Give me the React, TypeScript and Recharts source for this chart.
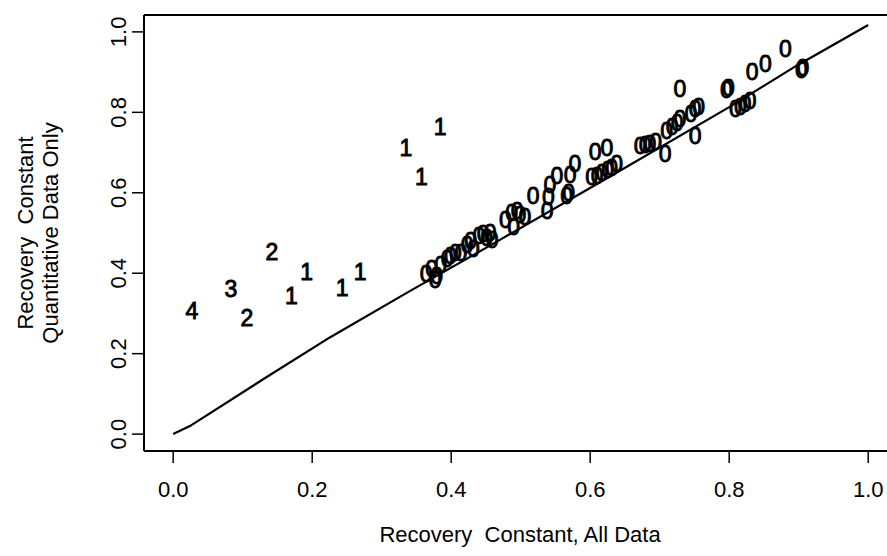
import React from 'react';
import { ScatterChart, Scatter, XAxis, YAxis, ReferenceLine, Label } from 'recharts';

// ---- data ----
const xTicks = [0, 0.2, 0.4, 0.6, 0.8, 1.0];
const yTicks = [0, 0.2, 0.4, 0.6, 0.8, 1.0];

const zeroX = [
  0.364, 0.372, 0.377, 0.379, 0.385, 0.394, 0.399, 0.406, 0.414, 0.423, 0.428, 0.432, 0.440, 0.446, 0.451, 0.456, 0.459,
  0.478, 0.487, 0.490, 0.495, 0.499, 0.506, 0.518, 0.538, 0.540, 0.542, 0.552, 0.566, 0.569, 0.571, 0.578,
  0.602, 0.607, 0.610, 0.617, 0.624, 0.625, 0.631, 0.638,
  0.672, 0.679, 0.686, 0.694, 0.708, 0.710, 0.718, 0.725, 0.729, 0.729, 0.745, 0.751, 0.756, 0.751,
  0.796, 0.799, 0.809, 0.816, 0.823, 0.830, 0.833, 0.852, 0.881, 0.904, 0.906,
];
const zeroY = [
  0.400, 0.410, 0.384, 0.395, 0.422, 0.436, 0.444, 0.452, 0.450, 0.470, 0.480, 0.462, 0.492, 0.497, 0.488, 0.500, 0.484,
  0.532, 0.550, 0.516, 0.555, 0.545, 0.541, 0.593, 0.556, 0.589, 0.620, 0.643, 0.593, 0.600, 0.645, 0.672,
  0.639, 0.701, 0.643, 0.650, 0.713, 0.657, 0.663, 0.672,
  0.717, 0.719, 0.721, 0.726, 0.697, 0.754, 0.763, 0.775, 0.784, 0.858, 0.796, 0.808, 0.815, 0.742,
  0.855, 0.860, 0.808, 0.813, 0.821, 0.829, 0.900, 0.920, 0.958, 0.905, 0.910,
];
const oneX = [0.170, 0.192, 0.243, 0.269, 0.335, 0.357, 0.384];
const oneY = [0.343, 0.404, 0.365, 0.404, 0.711, 0.639, 0.763];
const twoX = [0.106, 0.142];
const twoY = [0.289, 0.454];
const threeX = [0.083];
const threeY = [0.361];
const fourX = [0.027];
const fourY = [0.306];

const lineX = [0, 0.024, 0.13, 0.226, 0.341, 0.45, 0.631, 0.8, 0.897, 1.0];
const lineY = [0, 0.02, 0.137, 0.241, 0.356, 0.463, 0.643, 0.813, 0.916, 1.017];

// ---- layout ----
const W = 910;
const H = 556;
const PLOT_LEFT = 144;
const PLOT_TOP = 15;
const PLOT_RIGHT = 896;
const PLOT_BOTTOM = 451;
const X_DOMAIN: [number, number] = [-0.042, 1.04];
const Y_DOMAIN: [number, number] = [-0.042, 1.042];
const FONT = '"Liberation Sans", Arial, Helvetica, sans-serif';
const FS = 22; // axis text
const MS = 23; // marker digits
const TICK = 12;

const makePoints = (xs: number[], ys: number[], label: string) =>
  xs.map((x, i) => ({ x, y: ys[i], label }));

const zeroPts = makePoints(zeroX, zeroY, '0');
const onePts = makePoints(oneX, oneY, '1');
const twoPts = makePoints(twoX, twoY, '2');
const threePts = makePoints(threeX, threeY, '3');
const fourPts = makePoints(fourX, fourY, '4');
const linePts = makePoints(lineX, lineY, '');

const DigitShape = (props: any) => {
  const { cx, cy, payload } = props;
  if (cx == null || cy == null) return <g />;
  return (
    <text
      x={cx}
      y={cy + MS * 0.36}
      textAnchor="middle"
      fontSize={MS}
      fontFamily={FONT}
      fill="#000"
      stroke="#000"
      strokeWidth={0.9}
    >
      {payload.label}
    </text>
  );
};

const NoShape = () => <g />;

const Y_LABEL_CX = 118;
const YTick = (props: any) => {
  const { y, payload } = props;
  return (
    <text
      transform={`translate(${Y_LABEL_CX + FS * 0.36},${y}) rotate(-90)`}
      textAnchor="middle"
      fontSize={FS}
      fontFamily={FONT}
      fill="#000"
    >
      {Number(payload.value).toFixed(1)}
    </text>
  );
};

const XTick = (props: any) => {
  const { x, payload } = props;
  return (
    <text x={x} y={489 + FS * 0.36} textAnchor="middle" fontSize={FS} fontFamily={FONT} fill="#000">
      {Number(payload.value).toFixed(1)}
    </text>
  );
};

const YTitle = () => (
  <g fontSize={FS} fontFamily={FONT} fill="#000">
    <text transform={`translate(${25 + FS * 0.36},${233}) rotate(-90)`} textAnchor="middle" style={{ whiteSpace: 'pre' }}>
      {'Recovery  Constant'}
    </text>
    <text transform={`translate(${50 + FS * 0.36},${233}) rotate(-90)`} textAnchor="middle">
      {'Quantitative Data Only'}
    </text>
  </g>
);

const XTitle = () => (
  <text
    x={(PLOT_LEFT + PLOT_RIGHT) / 2}
    y={534 + FS * 0.36}
    textAnchor="middle"
    fontSize={FS}
    fontFamily={FONT}
    fill="#000"
    style={{ whiteSpace: 'pre' }}
  >
    {'Recovery  Constant, All Data'}
  </text>
);

export default function App() {
  return (
    <div style={{ position: 'absolute', left: 0, top: 0, width: 887, height: 556, overflow: 'hidden', background: '#fff' }}>
      <ScatterChart
        width={W}
        height={H}
        margin={{ top: PLOT_TOP, right: W - PLOT_RIGHT, left: 0, bottom: 0 }}
      >
        <XAxis
          type="number"
          dataKey="x"
          domain={X_DOMAIN}
          ticks={xTicks}
          allowDataOverflow
          height={H - PLOT_BOTTOM}
          tickSize={TICK}
          axisLine={{ stroke: '#000', strokeWidth: 2 }}
          tickLine={{ stroke: '#000', strokeWidth: 1.5 }}
          tick={<XTick />}
        >
          <Label content={<XTitle />} />
        </XAxis>
        <YAxis
          type="number"
          dataKey="y"
          domain={Y_DOMAIN}
          ticks={yTicks}
          allowDataOverflow
          width={PLOT_LEFT}
          tickSize={TICK}
          axisLine={{ stroke: '#000', strokeWidth: 2 }}
          tickLine={{ stroke: '#000', strokeWidth: 1.5 }}
          tick={<YTick />}
        >
          <Label content={<YTitle />} />
        </YAxis>
        <ReferenceLine y={Y_DOMAIN[1]} stroke="#000" strokeWidth={2} ifOverflow="visible" />
        <Scatter
          data={linePts}
          line={{ stroke: '#000', strokeWidth: 2.2 }}
          shape={<NoShape />}
          isAnimationActive={false}
        />
        <Scatter data={zeroPts} shape={<DigitShape />} isAnimationActive={false} />
        <Scatter data={onePts} shape={<DigitShape />} isAnimationActive={false} />
        <Scatter data={twoPts} shape={<DigitShape />} isAnimationActive={false} />
        <Scatter data={threePts} shape={<DigitShape />} isAnimationActive={false} />
        <Scatter data={fourPts} shape={<DigitShape />} isAnimationActive={false} />
      </ScatterChart>
    </div>
  );
}
